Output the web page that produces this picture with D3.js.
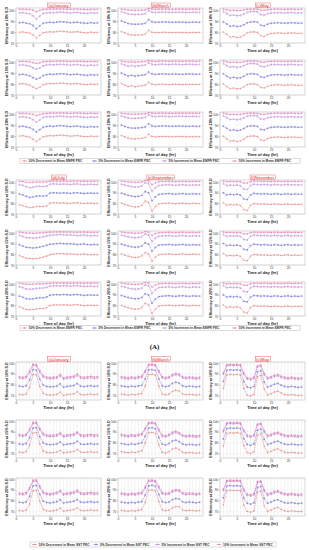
<!DOCTYPE html>
<html>
<head>
<meta charset="utf-8">
<script src="https://cdn.jsdelivr.net/npm/d3@7"></script>
<style>
body { margin: 0; background: #fff; }
svg { display: block; font-family: "Liberation Sans", Arial, sans-serif; }
</style>
</head>
<body>
<div id="chart"></div>
<script>
var hours = [1,2,3,4,5,6,7,8,9,10,11,12,13,14,15,16,17,18,19,20,21,22,23,24];
var xTicks = [0, 5, 10, 15, 20];
var emfrTicks = [70, 80, 90, 100];
var sstTicks = [70, 80, 90, 100];
var sdLabels = ["Efficiency at 10% S.D", "Efficiency at 15% S.D", "Efficiency at 20% S.D"];
var monthsA = ["(a)January", "(b)March", "(c)May"];
var monthsB = ["(d)July", "(e)September", "(f)November"];
var emfrLegend = ["10% Decrement in Mean EMFR PEC", "5% Decrement in Mean EMFR PEC", "5% Increment in Mean EMFR PEC", "10% Increment in Mean EMFR PEC"];
var sstLegend = ["10% Decrement in Mean SST PEC", "5% Decrement in Mean SST PEC", "5% Increment in Mean SST PEC", "10% Increment in Mean SST PEC"];
var colors = ["#e0605c", "#6262d4", "#a562c4", "#e45aa6"];

// each panel: [10% dec, 5% dec, 5% inc, 10% inc]
var emfrJan10 = [
 [79.8,80.1,79.5,79.0,77.4,74.6,77.0,79.3,79.9,80.2,80.0,80.4,80.8,80.6,80.2,79.8,80.1,80.3,79.8,79.5,79.3,79.9,79.5,79.7],
 [88.5,88.8,88.2,87.6,86.0,83.2,85.6,88.0,88.6,88.9,88.7,89.0,89.4,89.3,88.9,88.5,88.8,89.0,88.5,88.2,88.0,88.6,88.2,88.4],
 [97.5,97.8,97.2,96.8,95.0,92.0,94.5,97.0,97.5,97.8,97.6,97.9,98.2,98.0,97.7,97.4,97.8,98.0,97.5,97.2,97.0,97.6,97.3,97.5],
 [100.8,100.9,100.7,100.6,100.0,98.5,99.8,100.7,100.8,100.9,100.8,101.0,101.1,101.0,100.9,100.8,100.9,101.0,100.8,100.7,100.6,100.8,100.7,100.8]];
var emfrJan15 = [
 [80.2,80.4,79.8,79.0,77.3,75.8,77.0,79.3,80.1,80.5,80.3,80.6,80.9,80.8,80.4,80.0,80.3,80.5,80.0,79.7,79.5,80.0,79.7,79.9],
 [88.6,88.9,88.3,87.5,85.8,84.4,85.6,87.8,88.6,89.0,88.8,89.1,89.4,89.3,88.9,88.5,88.8,89.0,88.5,88.2,88.0,88.5,88.2,88.4],
 [97.3,97.6,97.0,96.4,94.8,93.6,94.6,96.6,97.4,97.7,97.5,97.8,98.0,97.9,97.6,97.3,97.6,97.8,97.4,97.1,96.9,97.4,97.1,97.3],
 [100.6,100.7,100.5,100.3,99.6,98.9,99.4,100.3,100.6,100.8,100.7,100.9,101.0,100.9,100.8,100.6,100.8,100.9,100.7,100.6,100.5,100.7,100.6,100.6]];
var emfrJan20 = [
 [80.0,80.3,79.7,79.0,77.2,75.0,77.1,79.3,80.0,80.4,80.2,80.5,80.9,80.7,80.3,79.9,80.2,80.4,79.9,79.6,79.4,79.9,79.6,79.8],
 [88.7,89.0,88.4,87.7,86.0,83.8,85.8,88.0,88.7,89.0,88.8,89.2,89.5,89.3,88.9,88.6,88.9,89.1,88.6,88.3,88.1,88.6,88.3,88.5],
 [97.4,97.7,97.1,96.6,95.0,92.8,94.8,96.9,97.5,97.8,97.6,97.9,98.2,98.0,97.7,97.4,97.7,97.9,97.5,97.2,97.0,97.5,97.2,97.4],
 [100.7,100.8,100.6,100.4,99.8,98.6,99.6,100.5,100.7,100.9,100.8,101.0,101.1,101.0,100.9,100.7,100.9,101.0,100.8,100.7,100.6,100.8,100.7,100.7]];
var emfrMar10 = [
 [80.4,79.2,78.0,77.4,77.2,77.3,77.5,78.0,81.6,79.8,79.4,79.6,79.7,79.8,79.6,79.5,79.6,79.7,79.6,79.4,79.5,79.7,79.6,79.5],
 [90.2,89.0,87.8,87.3,87.1,87.2,87.4,87.9,91.4,89.4,88.9,89.0,89.1,89.2,89.0,88.9,89.0,89.1,89.0,88.8,88.9,89.1,89.0,88.9],
 [98.6,97.6,96.6,96.2,96.0,96.1,96.3,96.7,99.8,98.2,97.8,98.0,98.1,98.2,98.0,97.9,98.0,98.1,98.0,97.8,97.9,98.1,98.0,97.9],
 [101.0,100.6,100.2,100.0,99.9,100.0,100.1,100.3,101.6,101.0,100.8,100.9,101.0,101.0,100.9,100.8,100.9,101.0,100.9,100.8,100.9,101.0,100.9,100.9]];
var emfrMar15 = [
 [80.6,79.0,77.7,78.4,77.5,78.0,78.5,79.0,81.6,79.8,79.3,79.7,79.9,79.7,79.5,79.7,79.8,79.6,79.5,79.7,79.8,79.7,79.5,79.6],
 [90.0,88.6,87.4,88.0,87.2,87.7,88.1,88.6,91.0,89.2,88.8,89.1,89.3,89.1,88.9,89.1,89.2,89.0,88.9,89.1,89.2,89.1,88.9,89.0],
 [98.5,97.3,96.3,96.9,96.1,96.6,97.0,97.4,99.5,98.0,97.6,98.0,98.2,98.0,97.8,98.0,98.1,97.9,97.8,98.0,98.1,98.0,97.8,97.9],
 [101.0,100.5,100.1,100.3,100.0,100.2,100.4,100.6,101.4,100.9,100.7,100.9,101.0,100.9,100.8,100.9,101.0,100.9,100.8,100.9,101.0,100.9,100.8,100.9]];
var emfrMar20 = [
 [80.5,79.2,78.1,77.5,77.4,77.6,78.0,78.6,81.8,79.7,79.2,79.5,79.7,79.6,79.4,79.4,79.6,79.7,79.5,79.3,79.4,79.5,79.3,79.4],
 [90.0,88.8,87.8,87.3,87.2,87.4,87.8,88.3,91.2,89.3,88.8,89.0,89.2,89.1,88.9,88.9,89.1,89.2,89.0,88.8,88.9,89.0,88.8,88.9],
 [98.4,97.4,96.6,96.2,96.1,96.3,96.6,97.0,99.6,98.1,97.7,97.9,98.1,98.0,97.8,97.8,98.0,98.1,97.9,97.8,97.9,98.0,97.8,97.9],
 [100.9,100.5,100.2,100.0,100.0,100.1,100.2,100.4,101.5,101.0,100.8,100.9,101.0,100.9,100.8,100.8,100.9,101.0,100.9,100.8,100.9,100.9,100.8,100.9]];
var emfrMay10 = [
 [80.0,77.8,75.4,75.9,75.1,75.5,77.0,79.2,80.0,80.2,79.7,76.6,76.0,77.8,78.6,79.0,79.2,79.0,78.7,79.0,79.2,79.0,78.7,78.8],
 [89.2,87.4,85.3,85.8,85.1,85.4,86.7,88.5,89.2,89.4,89.0,86.2,85.7,87.2,88.0,88.3,88.5,88.3,88.1,88.3,88.5,88.3,88.1,88.2],
 [98.6,97.0,95.2,95.6,95.0,95.3,96.4,98.0,98.6,98.8,98.4,95.9,95.4,96.8,97.4,97.6,97.8,97.6,97.4,97.6,97.8,97.6,97.4,97.5],
 [101.0,100.4,99.8,99.9,99.7,99.8,100.2,100.8,101.0,101.0,100.9,100.0,99.9,100.5,100.7,100.8,100.9,100.8,100.7,100.8,100.9,100.8,100.7,100.8]];
var emfrMay15 = [
 [80.2,77.6,75.8,76.4,75.6,75.9,77.4,79.4,80.2,80.0,79.4,76.9,76.4,78.0,78.8,79.2,79.3,79.1,78.8,79.1,79.3,79.0,78.8,78.9],
 [89.4,87.2,85.6,86.2,85.5,85.8,87.1,88.8,89.4,89.3,88.8,86.5,86.1,87.4,88.2,88.5,88.6,88.4,88.2,88.4,88.6,88.3,88.2,88.3],
 [98.7,96.8,95.5,96.0,95.3,95.6,96.8,98.2,98.8,98.7,98.2,96.2,95.8,97.0,97.6,97.8,97.9,97.7,97.5,97.7,97.9,97.6,97.5,97.6],
 [101.0,100.3,99.9,100.0,99.8,99.9,100.3,100.9,101.0,101.0,100.8,100.1,100.0,100.6,100.7,100.8,100.9,100.8,100.7,100.8,100.9,100.8,100.7,100.8]];
var emfrMay20 = [
 [79.8,77.5,75.3,75.8,75.0,75.6,77.2,79.3,80.0,80.1,79.5,76.4,75.9,77.6,78.5,78.9,79.1,78.9,78.6,78.9,79.1,78.9,78.6,78.7],
 [89.0,87.1,85.2,85.7,85.0,85.5,86.9,88.7,89.2,89.3,88.8,86.0,85.6,87.1,87.9,88.2,88.4,88.2,88.0,88.2,88.4,88.2,88.0,88.1],
 [98.4,96.8,95.1,95.5,94.9,95.4,96.6,98.1,98.6,98.7,98.2,95.7,95.3,96.7,97.3,97.5,97.7,97.5,97.3,97.5,97.7,97.5,97.3,97.4],
 [100.9,100.3,99.8,99.9,99.7,99.9,100.3,100.8,101.0,101.0,100.8,100.0,99.9,100.5,100.7,100.8,100.9,100.8,100.7,100.8,100.9,100.8,100.7,100.8]];

var emfrJul10 = [
 [78.6,77.8,76.8,76.0,76.4,77.0,77.2,77.0,77.4,80.2,80.6,80.4,80.2,80.5,80.3,80.0,80.4,80.6,80.2,79.9,80.1,80.3,80.0,80.1],
 [88.8,88.0,86.6,85.6,86.0,86.8,87.0,86.8,87.2,89.6,90.0,89.8,89.6,89.9,89.7,89.4,89.8,90.0,89.6,89.3,89.5,89.7,89.4,89.5],
 [97.6,97.0,95.6,94.8,95.2,95.9,96.1,95.9,96.3,98.0,98.3,98.1,97.9,98.2,98.0,97.7,98.1,98.3,97.9,97.6,97.8,98.0,97.7,97.8],
 [100.8,100.6,100.0,99.7,99.8,100.1,100.2,100.1,100.3,100.9,101.0,100.9,100.9,101.0,100.9,100.8,100.9,101.0,100.9,100.8,100.8,100.9,100.8,100.8]];
var emfrJul15 = [
 [78.8,77.6,76.4,76.2,75.8,76.0,76.6,77.4,78.4,79.6,80.2,80.6,80.8,80.6,80.4,80.5,80.2,79.8,80.0,80.3,79.8,79.5,79.8,79.6],
 [89.0,87.8,86.6,86.4,86.0,86.3,86.9,87.6,88.5,89.4,89.8,90.1,90.3,90.1,89.9,90.0,89.7,89.3,89.5,89.8,89.3,89.0,89.3,89.1],
 [97.8,96.8,95.8,95.6,95.3,95.5,96.0,96.6,97.3,97.9,98.2,98.4,98.6,98.4,98.2,98.3,98.0,97.7,97.9,98.1,97.7,97.4,97.7,97.5],
 [100.9,100.5,100.1,100.0,99.9,100.0,100.2,100.4,100.7,100.9,101.0,101.1,101.1,101.0,101.0,101.0,100.9,100.8,100.9,101.0,100.8,100.7,100.8,100.7]];
var emfrJul20 = [
 [78.5,77.4,76.2,75.8,76.1,76.6,76.9,77.0,77.8,79.8,80.4,80.5,80.3,80.6,80.4,80.1,80.5,80.7,80.2,79.8,80.0,80.2,79.9,80.0],
 [88.7,87.6,86.3,85.9,86.2,86.8,87.1,87.2,87.9,89.5,90.0,90.1,89.9,90.2,90.0,89.7,90.1,90.2,89.8,89.4,89.6,89.8,89.5,89.6],
 [97.5,96.7,95.5,95.1,95.4,96.0,96.2,96.3,96.9,98.0,98.3,98.4,98.2,98.5,98.3,98.0,98.4,98.5,98.1,97.8,97.9,98.1,97.8,97.9],
 [100.8,100.5,100.0,99.8,99.9,100.2,100.3,100.3,100.5,100.9,101.0,101.0,101.0,101.1,101.0,100.9,101.0,101.1,100.9,100.8,100.9,100.9,100.8,100.8]];
var emfrSep10 = [
 [80.2,79.0,78.0,77.2,76.6,76.8,78.0,82.2,80.8,72.8,77.0,79.4,79.9,80.1,80.3,79.9,79.6,80.1,80.3,79.9,79.6,80.1,79.9,79.9],
 [89.5,88.5,87.6,86.9,86.4,86.6,87.6,91.2,90.0,82.4,86.2,88.4,88.8,89.0,89.2,88.8,88.6,89.0,89.2,88.8,88.6,89.0,88.8,88.8],
 [98.0,97.2,96.4,95.8,95.4,95.6,96.4,99.5,98.6,91.5,94.8,96.8,97.2,97.4,97.6,97.2,97.0,97.4,97.6,97.2,97.0,97.4,97.2,97.2],
 [101.0,100.6,100.3,100.0,99.8,99.9,100.2,101.6,101.2,97.5,99.4,100.4,100.6,100.7,100.8,100.6,100.5,100.7,100.8,100.6,100.5,100.7,100.6,100.6]];
var emfrSep15 = [
 [80.4,79.3,78.3,77.6,77.0,77.3,78.6,81.8,80.2,73.5,77.4,79.6,80.0,80.2,80.4,80.0,79.8,80.2,80.4,80.0,79.8,80.2,80.0,80.0],
 [89.6,88.7,87.8,87.2,86.7,87.0,88.0,90.9,89.6,83.0,86.6,88.6,89.0,89.1,89.3,88.9,88.7,89.1,89.3,88.9,88.7,89.1,88.9,88.9],
 [98.1,97.3,96.6,96.0,95.6,95.9,96.7,99.2,98.2,92.2,95.2,97.0,97.3,97.5,97.7,97.3,97.1,97.5,97.7,97.3,97.1,97.5,97.3,97.3],
 [101.0,100.6,100.4,100.1,99.9,100.0,100.3,101.4,101.0,97.9,99.6,100.5,100.6,100.7,100.8,100.6,100.5,100.7,100.8,100.6,100.5,100.7,100.6,100.6]];
var emfrSep20 = [
 [80.0,78.8,77.8,77.0,76.4,76.7,77.8,82.0,80.6,72.4,76.6,79.2,79.7,80.0,80.2,79.8,79.5,80.0,80.2,79.8,79.5,80.0,79.8,79.8],
 [89.3,88.3,87.4,86.7,86.2,86.4,87.4,91.0,89.8,82.0,85.9,88.2,88.6,88.9,89.1,88.7,88.5,88.9,89.1,88.7,88.5,88.9,88.7,88.7],
 [97.9,97.1,96.2,95.6,95.2,95.4,96.2,99.4,98.4,91.2,94.6,96.7,97.1,97.3,97.5,97.1,96.9,97.3,97.5,97.1,96.9,97.3,97.1,97.1],
 [101.0,100.5,100.2,99.9,99.7,99.8,100.1,101.5,101.1,97.2,99.3,100.3,100.5,100.6,100.7,100.5,100.4,100.6,100.7,100.5,100.4,100.6,100.5,100.5]];
var emfrNov10 = [
 [80.6,78.3,78.8,78.5,78.8,78.0,74.0,73.3,78.2,79.8,79.5,79.2,79.4,79.2,78.9,79.4,79.2,78.8,79.2,79.4,78.9,79.2,78.9,79.2],
 [90.0,88.0,88.5,88.2,88.5,87.8,84.2,83.6,88.0,89.4,89.1,88.8,89.0,88.8,88.5,89.0,88.8,88.4,88.8,89.0,88.5,88.8,88.5,88.8],
 [98.5,96.8,97.2,97.0,97.2,96.6,93.6,93.0,96.8,98.0,97.8,97.5,97.7,97.5,97.3,97.7,97.5,97.2,97.5,97.7,97.3,97.5,97.3,97.5],
 [101.0,100.4,100.6,100.5,100.6,100.4,99.2,99.0,100.5,100.9,100.8,100.7,100.8,100.7,100.6,100.8,100.7,100.6,100.7,100.8,100.6,100.7,100.6,100.7]];
var emfrNov15 = [
 [80.8,78.6,79.0,78.7,79.0,78.2,74.6,74.0,78.4,79.9,79.6,79.3,79.5,79.3,79.0,79.5,79.3,78.9,79.3,79.5,79.0,79.3,79.0,79.3],
 [90.2,88.2,88.7,88.4,88.7,88.0,84.8,84.2,88.2,89.5,89.2,88.9,89.1,88.9,88.6,89.1,88.9,88.5,88.9,89.1,88.6,88.9,88.6,88.9],
 [98.6,97.0,97.4,97.2,97.4,96.8,94.0,93.5,97.0,98.1,97.9,97.6,97.8,97.6,97.4,97.8,97.6,97.3,97.6,97.8,97.4,97.6,97.4,97.6],
 [101.0,100.5,100.6,100.5,100.6,100.4,99.3,99.1,100.5,100.9,100.8,100.7,100.8,100.7,100.6,100.8,100.7,100.6,100.7,100.8,100.6,100.7,100.6,100.7]];
var emfrNov20 = [
 [80.4,78.0,78.6,78.3,78.6,77.7,73.6,72.8,77.9,79.7,79.4,79.1,79.3,79.1,78.8,79.3,79.1,78.7,79.1,79.3,78.8,79.1,78.8,79.1],
 [89.8,87.8,88.3,88.0,88.3,87.6,83.8,83.2,87.8,89.3,89.0,88.7,88.9,88.7,88.4,88.9,88.7,88.3,88.7,88.9,88.4,88.7,88.4,88.7],
 [98.4,96.6,97.0,96.8,97.0,96.4,93.2,92.6,96.6,97.9,97.7,97.4,97.6,97.4,97.2,97.6,97.4,97.1,97.4,97.6,97.2,97.4,97.2,97.4],
 [101.0,100.3,100.5,100.4,100.5,100.3,99.0,98.8,100.4,100.9,100.8,100.7,100.8,100.7,100.6,100.8,100.7,100.6,100.7,100.8,100.6,100.7,100.6,100.7]];

var sstJan10 = [
 [71.2,70.7,71.5,77.5,89.5,89.0,78.5,72.2,70.9,70.5,70.7,71.2,73.3,70.2,70.9,71.3,71.7,73.6,71.2,70.7,71.1,71.5,70.9,71.3],
 [78.8,78.3,79.1,84.5,94.0,93.5,85.2,79.8,78.5,78.1,78.3,78.8,80.9,77.8,78.5,78.9,79.3,81.2,78.8,78.3,78.7,79.1,78.5,78.9],
 [86.2,85.7,86.5,91.2,97.8,97.4,91.7,87.2,85.9,85.5,85.7,86.2,88.2,85.2,85.9,86.3,86.7,88.5,86.2,85.7,86.1,86.5,85.9,86.3],
 [87.5,87.0,87.8,92.5,99.0,98.6,93.0,88.5,87.2,86.8,87.0,87.5,89.5,86.5,87.2,87.6,88.0,89.8,87.5,87.0,87.4,87.8,87.2,87.6]];
var sstJan15 = [
 [71.5,71.0,71.8,78.0,89.0,89.4,79.0,72.5,71.2,70.8,71.0,71.5,73.0,70.6,71.2,71.5,72.0,73.8,71.4,71.0,71.3,71.7,71.1,71.4],
 [79.0,78.5,79.3,84.8,93.6,94.0,85.6,80.0,78.7,78.3,78.5,79.0,80.6,78.1,78.7,79.0,79.5,81.4,78.9,78.5,78.8,79.2,78.6,78.9],
 [86.4,85.9,86.7,91.4,97.6,97.9,92.0,87.4,86.1,85.7,85.9,86.4,88.0,85.5,86.1,86.4,86.9,88.7,86.3,85.9,86.2,86.6,86.0,86.3],
 [87.6,87.1,87.9,92.6,98.8,99.0,93.2,88.6,87.3,86.9,87.1,87.6,89.2,86.7,87.3,87.6,88.1,89.9,87.5,87.1,87.4,87.8,87.2,87.5]];
var sstJan20 = [
 [71.0,70.6,71.4,77.0,89.2,89.6,79.5,72.0,70.8,70.4,70.9,71.6,73.4,70.4,71.0,71.4,72.0,73.5,71.2,70.8,71.2,71.6,71.0,71.2],
 [78.6,78.2,79.0,84.2,93.8,94.2,86.0,79.6,78.4,78.0,78.5,79.2,81.0,78.0,78.6,79.0,79.6,81.1,78.8,78.4,78.8,79.2,78.6,78.8],
 [86.0,85.6,86.4,91.0,97.8,98.1,92.4,87.0,85.8,85.4,85.9,86.6,88.4,85.4,86.0,86.4,87.0,88.5,86.2,85.8,86.2,86.6,86.0,86.2],
 [87.2,86.8,87.6,92.2,99.0,99.2,93.6,88.2,87.0,86.6,87.1,87.8,89.6,86.6,87.2,87.6,88.2,89.7,87.4,87.0,87.4,87.8,87.2,87.4]];
var sstMar10 = [
 [71.5,71.0,70.5,71.2,70.8,71.5,72.0,79.0,89.5,89.8,89.0,79.0,71.5,70.8,71.5,73.8,75.0,74.2,71.5,70.8,71.2,71.0,70.5,71.0],
 [79.0,78.5,78.0,78.7,78.3,79.0,79.5,85.5,93.8,94.0,93.3,85.5,79.0,78.3,79.0,81.2,82.3,81.5,79.0,78.3,78.7,78.5,78.0,78.5],
 [86.3,85.8,85.3,86.0,85.6,86.3,86.8,91.8,97.8,98.0,97.5,91.8,86.3,85.6,86.3,88.3,89.3,88.6,86.3,85.6,86.0,85.8,85.3,85.8],
 [87.5,87.0,86.5,87.2,86.8,87.5,88.0,93.0,98.8,99.0,98.5,93.0,87.5,86.8,87.5,89.5,90.5,89.8,87.5,86.8,87.2,87.0,86.5,87.0]];
var sstMar15 = [
 [71.8,71.2,70.8,71.5,71.0,71.8,72.6,80.0,89.2,89.6,88.6,78.2,71.2,70.6,71.8,74.2,75.2,73.8,71.3,70.6,71.0,70.8,70.4,70.9],
 [79.3,78.7,78.3,79.0,78.5,79.3,80.0,86.2,93.6,93.9,93.0,85.0,78.7,78.1,79.3,81.6,82.5,81.1,78.8,78.1,78.5,78.3,77.9,78.4],
 [86.6,86.0,85.6,86.3,85.8,86.6,87.3,92.4,97.6,97.9,97.2,91.2,86.0,85.4,86.6,88.6,89.5,88.2,86.1,85.4,85.8,85.6,85.2,85.7],
 [87.8,87.2,86.8,87.5,87.0,87.8,88.5,93.6,98.6,98.9,98.2,92.4,87.2,86.6,87.8,89.8,90.7,89.4,87.3,86.6,87.0,86.8,86.4,86.9]];
var sstMar20 = [
 [71.3,70.8,70.4,71.0,70.6,71.3,71.8,78.6,89.6,90.0,89.2,79.4,71.6,70.9,71.4,73.5,74.8,74.4,71.6,70.9,71.3,71.1,70.6,71.1],
 [78.8,78.3,77.9,78.5,78.1,78.8,79.3,85.2,93.9,94.2,93.5,85.8,79.1,78.4,78.9,81.0,82.1,81.7,79.1,78.4,78.8,78.6,78.1,78.6],
 [86.1,85.6,85.2,85.8,85.4,86.1,86.6,91.6,97.9,98.1,97.6,92.0,86.4,85.7,86.2,88.1,89.2,88.8,86.4,85.7,86.1,85.9,85.4,85.9],
 [87.3,86.8,86.4,87.0,86.6,87.3,87.8,92.8,98.9,99.1,98.6,93.2,87.6,86.9,87.4,89.3,90.4,90.0,87.6,86.9,87.3,87.1,86.6,87.1]];
var sstMay10 = [
 [76.5,89.0,89.5,89.2,89.5,89.0,76.5,70.5,69.8,71.0,87.5,88.8,76.0,70.5,71.8,73.3,74.2,72.4,71.0,70.5,71.0,70.6,70.2,70.5],
 [83.0,93.4,93.8,93.5,93.8,93.4,83.0,78.0,77.2,78.5,92.0,93.0,82.5,78.0,79.0,80.5,81.3,79.6,78.5,78.0,78.5,78.1,77.6,78.0],
 [89.8,97.6,97.9,97.7,97.9,97.6,89.8,85.3,84.6,85.8,96.5,97.2,89.3,85.3,86.3,87.6,88.3,86.8,85.8,85.3,85.8,85.4,85.0,85.3],
 [91.0,98.5,98.8,98.6,98.8,98.5,91.0,86.5,85.8,87.0,97.5,98.2,90.5,86.5,87.5,88.8,89.5,88.0,87.0,86.5,87.0,86.6,86.2,86.5]];
var sstMay15 = [
 [77.0,88.6,89.2,89.0,89.3,88.6,77.4,71.0,70.2,71.6,87.0,88.4,76.8,71.0,72.2,73.6,74.4,72.8,71.3,70.8,71.2,70.9,70.5,70.8],
 [83.4,93.1,93.6,93.4,93.7,93.1,83.8,78.5,77.6,79.0,91.6,92.7,83.2,78.5,79.4,80.8,81.5,80.0,78.8,78.3,78.7,78.4,78.0,78.3],
 [90.2,97.4,97.7,97.5,97.8,97.4,90.6,85.7,85.0,86.3,96.2,97.0,90.0,85.7,86.6,87.9,88.5,87.1,86.1,85.6,86.0,85.7,85.3,85.6],
 [91.4,98.3,98.6,98.4,98.7,98.3,91.8,86.9,86.2,87.5,97.2,98.0,91.2,86.9,87.8,89.1,89.7,88.3,87.3,86.8,87.2,86.9,86.5,86.8]];
var sstMay20 = [
 [76.2,89.2,89.7,89.4,89.6,89.2,76.0,70.2,69.5,70.6,87.8,89.0,75.5,70.2,71.5,73.0,74.0,72.1,70.8,70.3,70.8,70.4,70.0,70.3],
 [82.7,93.6,94.0,93.7,93.9,93.6,82.6,77.7,76.9,78.2,92.2,93.2,82.1,77.7,78.8,80.3,81.1,79.4,78.3,77.8,78.3,77.9,77.4,77.8],
 [89.5,97.8,98.1,97.9,98.0,97.8,89.4,85.0,84.3,85.5,96.7,97.4,88.9,85.0,86.1,87.4,88.1,86.6,85.6,85.1,85.6,85.2,84.8,85.1],
 [90.7,98.7,99.0,98.8,98.9,98.7,90.6,86.2,85.5,86.7,97.7,98.4,90.1,86.2,87.3,88.6,89.3,87.8,86.8,86.3,86.8,86.4,86.0,86.3]];

var svg = d3.select("#chart").append("svg").attr("width", 309).attr("height", 550);

var colX = [16, 118, 220];
var plotW = 85;
var symbols = [d3.symbolCircle, d3.symbolCross, d3.symbolDiamond, d3.symbolSquare];

var blocks = [
  { titles: monthsA, panels: [[emfrJan10, emfrMar10, emfrMay10], [emfrJan15, emfrMar15, emfrMay15], [emfrJan20, emfrMar20, emfrMay20]],
    tops: [8, 60, 112], h: 35, yDomain: [70, 102], yTicks: emfrTicks, titleY: 6.8,
    legend: emfrLegend, legendY: 161.5, legendX: [20, 300], hourGrid: false },
  { titles: monthsB, panels: [[emfrJul10, emfrSep10, emfrNov10], [emfrJul15, emfrSep15, emfrNov15], [emfrJul20, emfrSep20, emfrNov20]],
    tops: [180, 231, 282], h: 34, yDomain: [70, 102], yTicks: emfrTicks, titleY: 178.8,
    legend: emfrLegend, legendY: 328.5, legendX: [20, 300], hourGrid: false },
  { titles: monthsA, panels: [[sstJan10, sstMar10, sstMay10], [sstJan15, sstMar15, sstMay15], [sstJan20, sstMar20, sstMay20]],
    tops: [362, 420, 478], h: 38, yDomain: [66, 101], yTicks: sstTicks, titleY: 360.5,
    legend: sstLegend, legendY: 545, legendX: [30, 276], hourGrid: true }
];

function drawPanel(b, data, x0, y0, ci, ri) {
  var g = svg.append("g");
  var x = d3.scaleLinear().domain([0, 25]).range([x0, x0 + plotW]);
  var y = d3.scaleLinear().domain(b.yDomain).range([y0 + b.h, y0]);

  // grid
  var vg = b.hourGrid ? hours : xTicks;
  g.selectAll(".vg").data(vg).enter().append("line")
    .attr("x1", d => x(d)).attr("x2", d => x(d))
    .attr("y1", y0).attr("y2", y0 + b.h)
    .attr("stroke", "#dddddd").attr("stroke-width", 0.35)
    .attr("stroke-dasharray", b.hourGrid ? null : "0.8,0.8");
  g.selectAll(".hg").data(b.yTicks).enter().append("line")
    .attr("x1", x0).attr("x2", x0 + plotW)
    .attr("y1", d => y(d)).attr("y2", d => y(d))
    .attr("stroke", "#d8d8d8").attr("stroke-width", 0.35)
    .attr("stroke-dasharray", "0.8,0.8");

  // axes
  var ax = g.append("g").attr("transform", "translate(0," + (y0 + b.h) + ")")
    .call(d3.axisBottom(x).tickValues(xTicks).tickSize(1).tickPadding(0.8));
  var ay = g.append("g").attr("transform", "translate(" + x0 + ",0)")
    .call(d3.axisLeft(y).tickValues(b.yTicks).tickSize(1).tickPadding(0.8));
  [ax, ay].forEach(a => {
    a.select(".domain").remove();
    a.selectAll(".tick line").attr("stroke", "#777").attr("stroke-width", 0.3);
    a.selectAll("text").attr("font-size", 3.2).attr("fill", "#333").attr("font-family", "Liberation Sans, Arial, sans-serif");
  });

  g.append("rect").attr("x", x0).attr("y", y0).attr("width", plotW).attr("height", b.h)
    .attr("fill", "none").attr("stroke", "#999").attr("stroke-width", 0.4);

  // series
  var line = d3.line().x((d, i) => x(hours[i])).y(d => y(d));
  data.forEach(function(s, si) {
    g.append("path").datum(s).attr("d", line)
      .attr("fill", "none").attr("stroke", colors[si]).attr("stroke-width", 0.5)
      .attr("stroke-dasharray", "1.4,0.6");
    g.selectAll(".m" + si).data(s).enter().append("path")
      .attr("transform", (d, i) => "translate(" + x(hours[i]) + "," + y(d) + ")")
      .attr("d", d3.symbol().type(symbols[si]).size(1.1))
      .attr("fill", "none").attr("stroke", colors[si]).attr("stroke-width", 0.35);
  });

  // labels
  g.append("text").attr("x", x0 + plotW / 2).attr("y", y0 + b.h + 8.6)
    .attr("text-anchor", "middle").attr("font-size", 4.1).attr("font-weight", "bold").attr("fill", "#222")
    .text("Time of day (hr)");
  g.append("text").attr("transform", "translate(" + (x0 - 8.5) + "," + (y0 + b.h / 2) + ") rotate(-90)")
    .attr("text-anchor", "middle").attr("font-size", 3.7).attr("font-weight", "bold").attr("fill", "#222")
    .text(sdLabels[ri]);

  if (ri === 0) {
    var tg = g.append("g");
    var t = tg.append("text").attr("x", x0 + plotW / 2).attr("y", b.titleY)
      .attr("text-anchor", "middle").attr("font-size", 4.2).attr("fill", "#e02424")
      .text(b.titles[ci]);
    var bb = t.node().getBBox();
    tg.insert("rect", () => t.node()).attr("x", bb.x - 0.8).attr("y", bb.y + 0.2).attr("width", bb.width + 1.6).attr("height", bb.height - 0.2)
      .attr("fill", "#fff").attr("stroke", "#e02424").attr("stroke-width", 0.35);
  }
}

function drawLegend(b) {
  var g = svg.append("g");
  var x0 = b.legendX[0], x1 = b.legendX[1];
  var step = (x1 - x0) / b.legend.length;
  g.append("rect").attr("x", x0).attr("y", b.legendY - 3).attr("width", x1 - x0).attr("height", 5)
    .attr("fill", "#fff").attr("stroke", "#999").attr("stroke-width", 0.35);
  b.legend.forEach(function(name, i) {
    var lx = x0 + 2 + i * step;
    g.append("line").attr("x1", lx).attr("x2", lx + 5).attr("y1", b.legendY - 0.5).attr("y2", b.legendY - 0.5)
      .attr("stroke", colors[i]).attr("stroke-width", 0.5);
    g.append("path").attr("transform", "translate(" + (lx + 2.5) + "," + (b.legendY - 0.5) + ")")
      .attr("d", d3.symbol().type(symbols[i]).size(1.1))
      .attr("fill", "none").attr("stroke", colors[i]).attr("stroke-width", 0.35);
    g.append("text").attr("x", lx + 6.5).attr("y", b.legendY + 0.7)
      .attr("font-size", 3.2).attr("font-weight", "bold").attr("fill", "#333").text(name);
  });
}

blocks.forEach(function(b) {
  b.panels.forEach(function(row, ri) {
    row.forEach(function(data, ci) {
      drawPanel(b, data, colX[ci], b.tops[ri], ci, ri);
    });
  });
  drawLegend(b);
});

svg.append("text").attr("x", 154.5).attr("y", 348.5).attr("text-anchor", "middle")
  .attr("font-family", "Liberation Serif, Times New Roman, serif").attr("font-size", 7).attr("font-weight", "bold")
  .attr("fill", "#111").text("(A)");
</script>
</body>
</html>
